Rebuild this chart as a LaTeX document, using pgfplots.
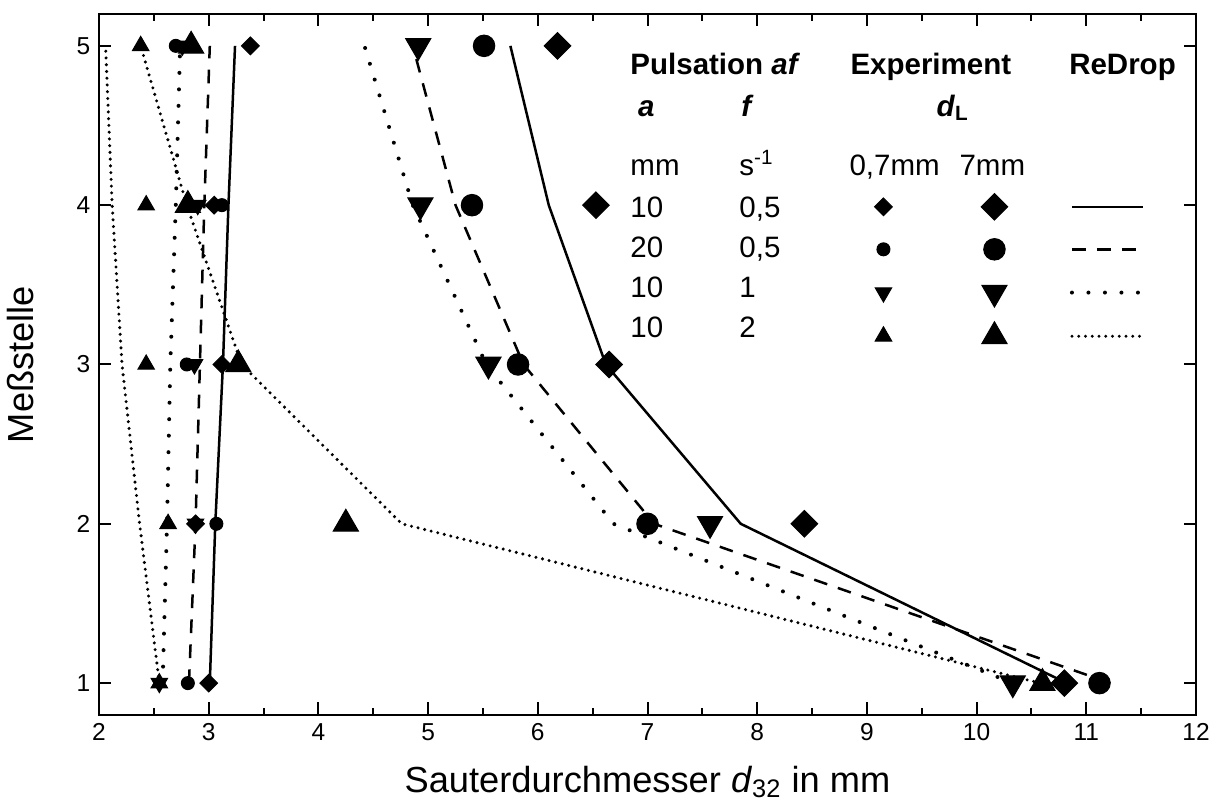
\documentclass[border=0pt]{standalone}
\usepackage{fontspec}
\setmainfont{Liberation Sans}
\usepackage{pgfplots}
\pgfplotsset{compat=1.18}

% marker / line styles
\pgfplotsset{
  mk/.style={black, only marks, mark options={solid, fill=black, draw=black}},
  smd/.style={mk, mark=square*, mark size=2.5pt, mark options={rotate=45}},
  bgd/.style={mk, mark=square*, mark size=3.75pt, mark options={rotate=45}},
  smc/.style={mk, mark=*, mark size=2.6pt},
  bgc/.style={mk, mark=*, mark size=4.3pt},
  smv/.style={mk, mark=triangle*, mark size=3.8pt, mark options={rotate=180}},
  bgv/.style={mk, mark=triangle*, mark size=5.8pt, mark options={rotate=180}},
  smt/.style={mk, mark=triangle*, mark size=3.8pt},
  bgt/.style={mk, mark=triangle*, mark size=5.8pt},
  lsolid/.style={black, no markers, line width=1pt},
  ldash/.style={black, no markers, line width=1pt, dash pattern=on 5.5pt off 4.5pt},
  ldot/.style={black, no markers, line width=1.6pt, line cap=round, dash pattern=on 0pt off 6.6pt},
  ldense/.style={black, no markers, line width=1.35pt, line cap=round, dash pattern=on 0pt off 2.7pt},
  markimg/.style={legend image code/.code={\path (0pt,-8pt) (16pt,8pt);
      \draw[##1] plot coordinates {(8pt,0pt)};}},
  lineimg/.style={legend image code/.code={\path (0pt,-8pt) (28.4pt,8pt);
      \draw[##1] (0pt,0pt) -- (28.4pt,0pt);}},
}

\begin{document}
\begin{tikzpicture}[lab/.style={anchor=base west, inner sep=0pt, font=\fontsize{11.8}{14}\selectfont}]
\begin{axis}[
  name=ax,
  scale only axis,
  width=438.8pt, height=280.4pt,
  xmin=2, xmax=12, ymin=0.8, ymax=5.2,
  xtick={2,3,...,12}, ytick={1,2,3,4,5},
  minor x tick num=1,
  tick pos=both, tick align=inside,
  major tick length=5pt, minor tick length=2.7pt,
  axis line style={line width=0.9pt},
  every tick/.style={black, line width=0.8pt},
  ticklabel style={font=\fontsize{9.8}{11}\selectfont},
  /pgf/number format/assume math mode=true,
  clip=false,
  legend columns=3,
  legend style={draw=none, fill=none, inner sep=0pt, outer sep=0pt,
    column sep=0pt, row sep=0pt, nodes={inner sep=0pt, outer sep=0pt},
    at={(axis cs:8.964,4.123)}, anchor=north west},
]

% ReDrop, d_L = 0,7 mm
\addplot[lsolid, forget plot] coordinates {(3.01,1) (3.06,2) (3.13,3) (3.18,4) (3.24,5)};
\addplot[ldash, forget plot] coordinates {(2.82,1) (2.88,2) (2.92,3) (2.96,4) (3.01,5)};
\addplot[ldot, forget plot] coordinates {(2.58,1) (2.62,2) (2.65,3) (2.70,4) (2.74,5)};
\addplot[ldense, forget plot] coordinates {(2.55,1) (2.37,2) (2.21,3) (2.12,4) (2.06,5)};
% ReDrop, d_L = 7 mm
\addplot[lsolid, forget plot] coordinates {(10.82,1) (7.85,2) (6.62,3) (6.10,4) (5.75,5)};
\addplot[ldash, forget plot] coordinates {(11.22,1) (7.06,2) (5.87,3) (5.25,4) (4.86,5)};
\addplot[ldot, forget plot] coordinates {(10.33,1) (6.69,2) (5.53,3) (4.86,4) (4.42,5)};
\addplot[ldense, forget plot] coordinates {(10.58,1) (4.76,2) (3.30,3) (2.80,4) (2.38,5)};

% Experiment, d_L = 0,7 mm
\addplot[smd, forget plot] coordinates {(3.00,1) (2.88,2) (3.12,3) (3.05,4) (3.38,5)};
\addplot[smc, forget plot] coordinates {(2.81,1) (3.07,2) (2.80,3) (3.12,4) (2.70,5)};
\addplot[smv, forget plot] coordinates {(2.55,1) (2.88,2) (2.87,3) (2.90,4) (2.76,5)};
\addplot[smt, forget plot] coordinates {(2.55,1) (2.63,2) (2.43,3) (2.43,4) (2.38,5)};
% Experiment, d_L = 7 mm
\addplot[bgd, forget plot] coordinates {(10.80,1) (8.43,2) (6.65,3) (6.53,4) (6.18,5)};
\addplot[bgc, forget plot] coordinates {(11.12,1) (7.00,2) (5.82,3) (5.40,4) (5.51,5)};
\addplot[bgv, forget plot] coordinates {(10.33,1) (7.57,2) (5.55,3) (4.93,4) (4.91,5)};
\addplot[bgt, forget plot] coordinates {(10.60,1) (4.25,2) (3.27,3) (2.81,4) (2.84,5)};

% legend glyphs
\addlegendimage{smd, markimg}\addlegendentry{\hspace*{28pt}}
\addlegendimage{bgd, markimg}\addlegendentry{\hspace*{22pt}}
\addlegendimage{lsolid, lineimg}\addlegendentry{}
\addlegendimage{smc, markimg}\addlegendentry{\hspace*{28pt}}
\addlegendimage{bgc, markimg}\addlegendentry{\hspace*{22pt}}
\addlegendimage{ldash, lineimg}\addlegendentry{}
\addlegendimage{smv, markimg}\addlegendentry{\hspace*{28pt}}
\addlegendimage{bgv, markimg}\addlegendentry{\hspace*{22pt}}
\addlegendimage{ldot, lineimg}\addlegendentry{}
\addlegendimage{smt, markimg}\addlegendentry{\hspace*{28pt}}
\addlegendimage{bgt, markimg}\addlegendentry{\hspace*{22pt}}
\addlegendimage{ldense, lineimg}\addlegendentry{}

% legend text
\node[lab] at (axis cs:6.84,4.818) {\textbf{Pulsation \textit{af}}};
\node[lab] at (axis cs:8.846,4.818) {\textbf{Experiment}};
\node[lab] at (axis cs:10.84,4.818) {\textbf{ReDrop}};
\node[lab] at (axis cs:6.909,4.558) {\textbf{\textit{a}}};
\node[lab] at (axis cs:7.852,4.558) {\textbf{\textit{f}}};
\node[lab] at (axis cs:9.63,4.558) {\textbf{\textit{d}\textsubscript{L}}};
\node[lab] at (axis cs:6.84,4.187) {mm};
\node[lab] at (axis cs:7.834,4.187) {s\textsuperscript{-1}};
\node[lab] at (axis cs:8.837,4.187) {0,7mm};
\node[lab] at (axis cs:9.84,4.187) {7mm};
\node[lab] at (axis cs:6.84,3.924) {10};
\node[lab] at (axis cs:7.834,3.924) {0,5};
\node[lab] at (axis cs:6.84,3.672) {20};
\node[lab] at (axis cs:7.834,3.672) {0,5};
\node[lab] at (axis cs:6.84,3.419) {10};
\node[lab] at (axis cs:7.834,3.419) {1};
\node[lab] at (axis cs:6.84,3.167) {10};
\node[lab] at (axis cs:7.834,3.167) {2};
\end{axis}
\node[rotate=90, font=\fontsize{14.5}{16}\selectfont] at ([xshift=-31.5pt]ax.west) {Meßstelle};
\node[anchor=base, font=\fontsize{14.5}{16}\selectfont] at ([yshift=-31pt]ax.south)
  {Sauterdurchmesser \textit{d}\textsubscript{32} in mm};
\pgfresetboundingbox
\path ([shift={(-39.6pt,-38.8pt)}]ax.south west) rectangle ([shift={(6.4pt,5.6pt)}]ax.north east);
\end{tikzpicture}
\end{document}
